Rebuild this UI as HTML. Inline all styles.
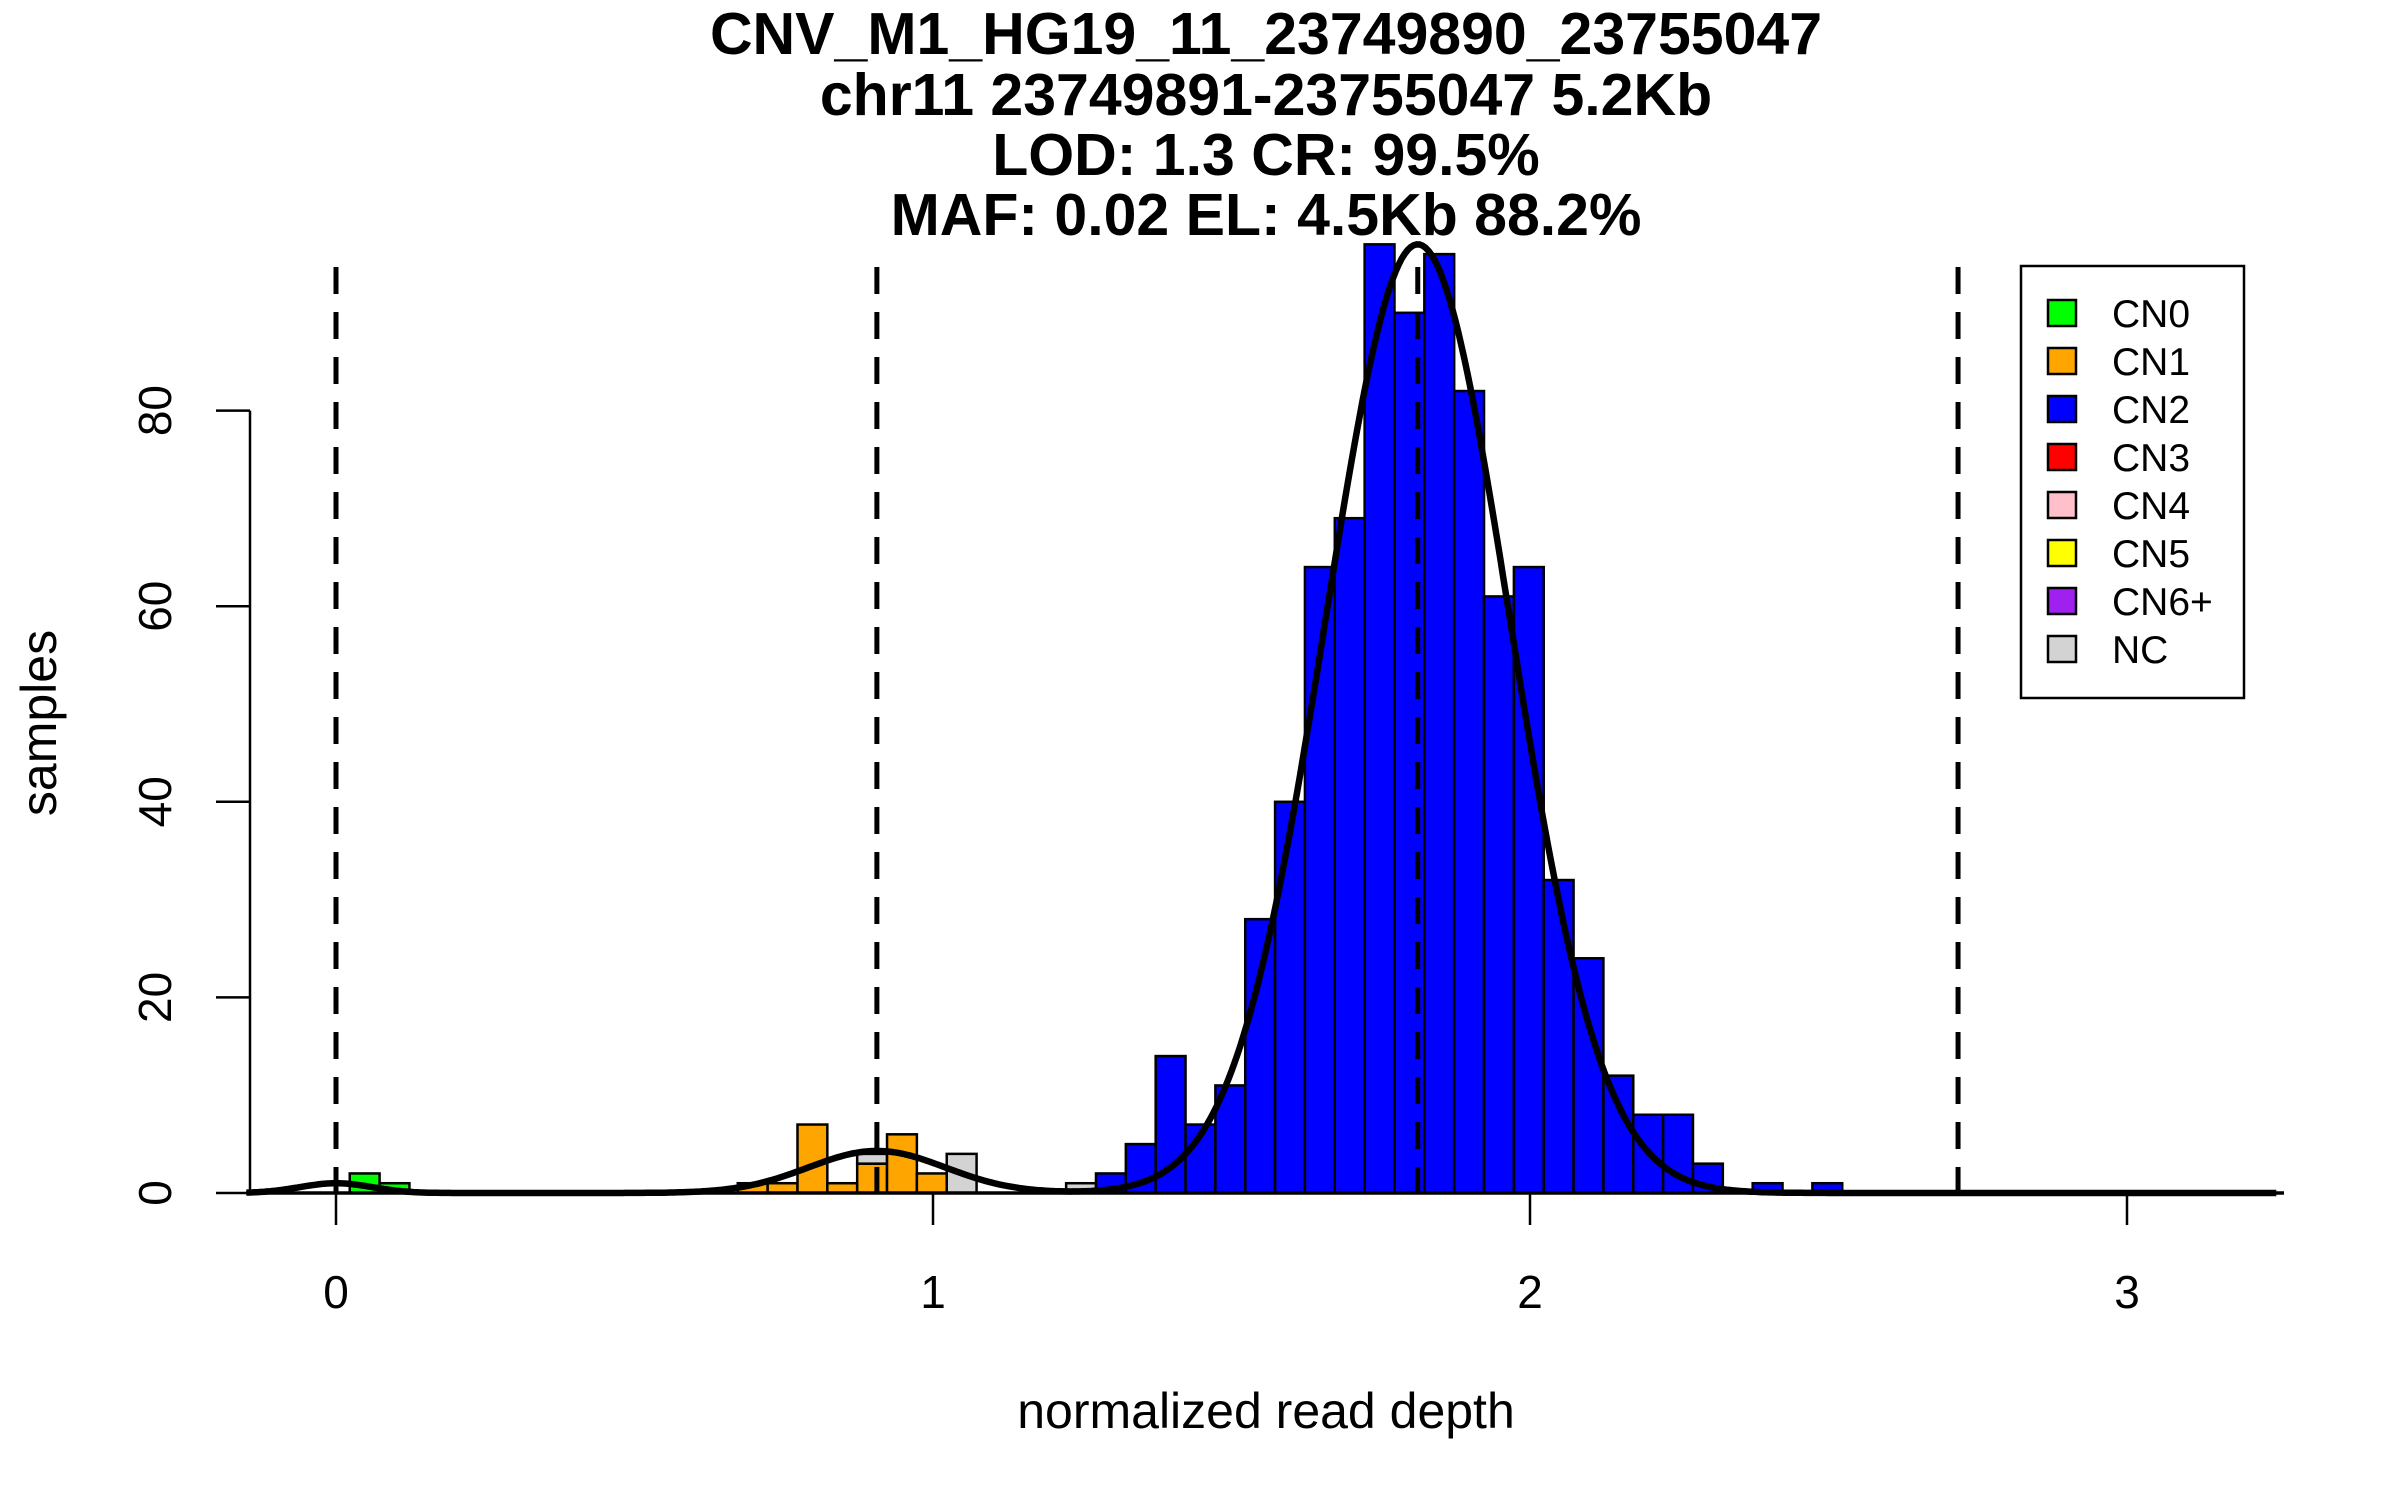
<!DOCTYPE html>
<html><head><meta charset="utf-8"><style>
html,body{margin:0;padding:0;background:#fff;}
svg{display:block;font-family:"Liberation Sans",sans-serif;}
</style></head><body>
<svg id="chart" width="2400" height="1500" viewBox="0 0 2400 1500" xmlns="http://www.w3.org/2000/svg">
<rect width="2400" height="1500" fill="#fff"/>
<g font-weight="bold" font-size="59" text-anchor="middle">
<text x="1266" y="54">CNV_M1_HG19_11_23749890_23755047</text>
<text x="1266" y="115">chr11 23749891-23755047 5.2Kb</text>
<text x="1266" y="175">LOD: 1.3 CR: 99.5%</text>
<text x="1266" y="235">MAF: 0.02 EL: 4.5Kb 88.2%</text>
</g>
<g id="bars"></g>
<g id="curve"></g>
<g id="vlines"></g>
<g id="axes"></g>
<text x="1266" y="1428" font-size="50" text-anchor="middle">normalized read depth</text>
<text transform="translate(56,723) rotate(-90)" font-size="50" text-anchor="middle">samples</text>
<g id="legend"></g>
</svg>
<script>
const binStart = 0.023;
const binWidth = 0.05;
const greenCounts = [2,1];
const orangeCounts = [0,0,0,0,0,0,0,0,0,0,0,0,0,1,1,7,1,3,6,2,0];
const greyCounts = [0,0,0,0,0,0,0,0,0,0,0,0,0,0,0,0,0,1,0,0,4,0,0,0,1];
const blueCounts = [0,0,0,0,0,0,0,0,0,0,0,0,0,0,0,0,0,0,0,0,0,0,0,0,0,2,5,14,7,11,28,40,64,69,97,90,96,82,61,64,32,24,12,8,8,3,0,1,0,1];
const curveMeans = [0, 0.906, 1.812];
const curveHeights = [1.0, 4.3, 97];
const curveSds = [0.06, 0.115, 0.154];
const thresholds = [0, 0.906, 1.812, 2.717];
const xTicks = [0,1,2,3];
const yTicks = [0,20,40,60,80];
const legendLabels = ["CN0","CN1","CN2","CN3","CN4","CN5","CN6+","NC"];
const legendColors = ["#00ff00","#ffa500","#0000ff","#ff0000","#ffc0cb","#ffff00","#a020f0","#d3d3d3"];

const NS="http://www.w3.org/2000/svg";
const X=v=>336+v*597;
const Y=v=>1193-v*9.78;
function mk(tag,attrs,parent){const e=document.createElementNS(NS,tag);for(const k in attrs)e.setAttribute(k,attrs[k]);parent.appendChild(e);return e;}

const bars=document.getElementById('bars');
const series=[[greenCounts,"#00ff00","green"],[orangeCounts,"#ffa500","orange"],[blueCounts,"#0000ff","blue"],[greyCounts,"#d3d3d3","grey"]];
const n=Math.max(...series.map(s=>s[0].length));
for(let k=0;k<n;k++){
  let base=0;
  for(const [arr,col,nm] of series){
    const c=arr[k]||0; if(!c) continue;
    const x0=X(binStart+k*binWidth), x1=X(binStart+(k+1)*binWidth);
    const r=mk('rect',{x:x0,y:Y(base+c),width:x1-x0,height:Y(base)-Y(base+c),fill:col,stroke:"#000","stroke-width":2.5},bars);
    
    
    base+=c;
  }
}
let d="";
for(let i=0;i<=680;i++){const v=-0.15+i*0.005;let y=0;for(let j=0;j<curveMeans.length;j++){y+=curveHeights[j]*Math.exp(-0.5*Math.pow((v-curveMeans[j])/curveSds[j],2));}
d+=(i?"L":"M")+X(v).toFixed(1)+","+Y(y).toFixed(1);}
const cp=mk('path',{d:d,fill:"none",stroke:"#000","stroke-width":6.5},document.getElementById('curve'));


const vl=document.getElementById('vlines');
thresholds.forEach((t,i)=>{const l=mk('line',{x1:X(t),x2:X(t),y1:267,y2:1193,stroke:"#000","stroke-width":5,"stroke-dasharray":"27,18"},vl);

});
const ax=document.getElementById('axes');
const xl=mk('line',{x1:246,x2:2284,y1:1193,y2:1193,stroke:"#000","stroke-width":3.5},ax);


xTicks.forEach(t=>{const tk=mk('line',{x1:X(t),x2:X(t),y1:1193,y2:1225,stroke:"#000","stroke-width":2.5},ax);


const tx=mk('text',{x:X(t),y:1308,"font-size":46,"text-anchor":"middle"},ax);tx.textContent=t;

});
const yl=mk('line',{x1:250,x2:250,y1:Y(80),y2:Y(0),stroke:"#000","stroke-width":2.5},ax);


yTicks.forEach(t=>{const tk=mk('line',{x1:216,x2:250,y1:Y(t),y2:Y(t),stroke:"#000","stroke-width":2.5},ax);


const tx=mk('text',{transform:`translate(171,${Y(t)}) rotate(-90)`,"font-size":46,"text-anchor":"middle"},ax);tx.textContent=t;

});
const lg=document.getElementById('legend');
const lb=mk('rect',{x:2021,y:266,width:223,height:432,fill:"#fff",stroke:"#000","stroke-width":2.5},lg);


legendLabels.forEach((lab,i)=>{const cy=313+i*48;
const s=mk('rect',{x:2048,y:cy-13,width:28,height:26,fill:legendColors[i],stroke:"#000","stroke-width":2.5},lg);


const t=mk('text',{x:2112,y:cy+14,"font-size":39},lg);t.textContent=lab;

});
</script>
</body></html>
